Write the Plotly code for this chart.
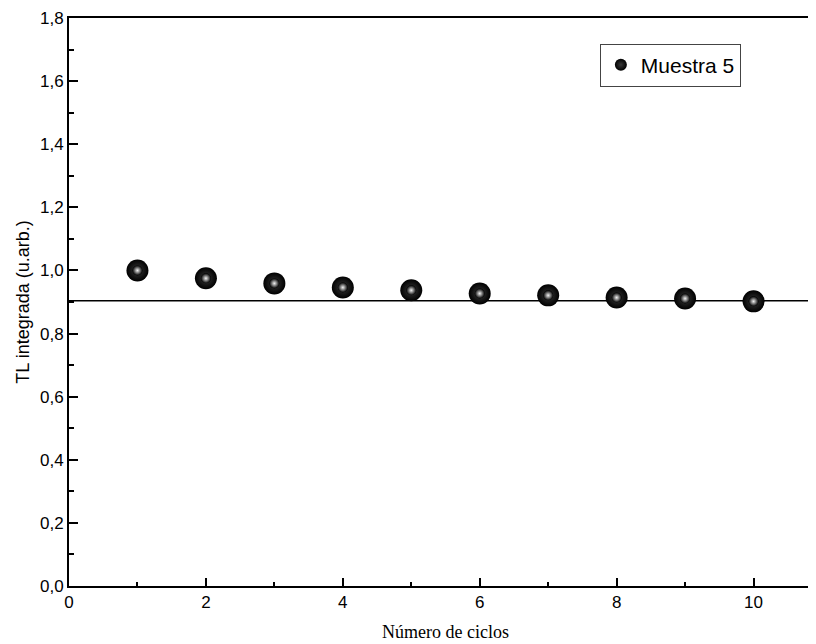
import plotly.graph_objects as go

ciclos = [1, 2, 3, 4, 5, 6, 7, 8, 9, 10]
tl_integrada = [1.000, 0.975, 0.959, 0.946, 0.937, 0.927, 0.921, 0.914, 0.911, 0.902]
fit_x = [0, 11]
fit_y = [0.904, 0.904]
serie = "Muestra 5"

fig = go.Figure()
fig.add_trace(go.Scatter(x=fit_x, y=fit_y, mode="lines",
                         line=dict(color="black", width=1.5), showlegend=False,
                         hoverinfo="skip"))
fig.add_trace(go.Scatter(x=ciclos, y=tl_integrada, mode="markers", name=serie,
                         marker=dict(size=22, color="black",
                                     gradient=dict(type="radial", color="#3a3a3a"),
                                     line=dict(width=0))))
fig.add_trace(go.Scatter(x=ciclos, y=tl_integrada, mode="markers", showlegend=False,
                         hoverinfo="skip",
                         marker=dict(size=10, color="black",
                                     gradient=dict(type="radial", color="#f4f4f4"),
                                     line=dict(width=0))))

fig.update_layout(
    width=816, height=636,
    margin=dict(l=61, r=0, t=10, b=58),
    paper_bgcolor="white", plot_bgcolor="white",
    separators=",.",
    font=dict(family="Liberation Sans, Arial, sans-serif", size=17, color="black"),
    showlegend=True,
    legend=dict(x=0.705, y=0.955, xanchor="left", yanchor="top",
                bordercolor="#444", borderwidth=1, bgcolor="white",
                font=dict(size=21), itemsizing="constant",
                tracegroupgap=0),
    xaxis=dict(range=[0, 11], tickmode="linear", tick0=0, dtick=2,
               ticks="inside", ticklen=8, tickwidth=2, tickcolor="black",
               showline=True, linewidth=2, linecolor="black", mirror=True,
               showgrid=False, zeroline=False,
               minor=dict(ticks="inside", ticklen=4, tickwidth=2, dtick=1,
                          tickcolor="black", showgrid=False),
               title=dict(text="Número de ciclos",
                          font=dict(family="Liberation Serif, Times New Roman, serif", size=18),
                          standoff=14)),
    yaxis=dict(range=[0, 1.8], tickmode="linear", tick0=0, dtick=0.2,
               tickformat=".1f",
               ticks="inside", ticklen=9, tickwidth=2, tickcolor="black",
               showline=True, linewidth=2, linecolor="black", mirror="ticks",
               showgrid=False, zeroline=False,
               minor=dict(ticks="inside", ticklen=5, tickwidth=2, dtick=0.1,
                          tickcolor="black", showgrid=False),
               title=dict(text="TL integrada (u.arb.)", font=dict(size=18),
                          standoff=6)),
)

fig.write_html("out.html")
